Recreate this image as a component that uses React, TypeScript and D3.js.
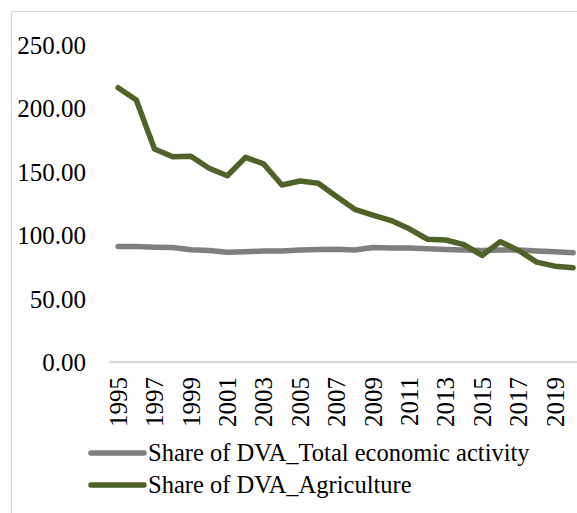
import React from "react";
import * as d3 from "d3";

const years = d3.range(1995, 2021).map(String);
const totalActivity = [
  91.0, 91.0, 90.5, 90.3, 88.5, 88.0, 86.5, 87.0, 87.5, 87.5, 88.3, 88.8, 89.0,
  88.3, 90.3, 90.0, 90.0, 89.3, 88.7, 88.3, 88.0, 88.3, 88.3, 87.5, 87.0, 86.2,
];
const agriculture = [
  216.3, 206.6, 168.0, 161.9, 162.3, 152.8, 146.9, 161.4, 156.2, 139.6, 142.7,
  140.9, 130.5, 120.4, 115.9, 111.5, 105.0, 96.8, 96.2, 92.5, 84.0, 94.9, 88.0,
  78.8, 75.6, 74.4,
];
const yTicks = [0, 50, 100, 150, 200, 250];
const xLabels = years.filter((_, i) => i % 2 === 0);

const seriesList = [
  { name: "Share of DVA_Total economic activity", values: totalActivity, color: "#7F7F7F" },
  { name: "Share of DVA_Agriculture", values: agriculture, color: "#4F6228" },
];

const W = 577;
const H = 513;
const FONT = "'Liberation Serif', 'DejaVu Serif', serif";

export default function App() {
  const x = d3.scaleBand().domain(years).range([109, 109 + years.length * 18.2]);
  const y = d3.scaleLinear().domain([0, 250]).range([362, 45]);
  const cx = (yr: string) => (x(yr) ?? 0) + x.bandwidth() / 2;

  const line = d3
    .line<number>()
    .x((_, i) => cx(years[i]))
    .y((d) => y(d));

  return (
    <svg
      width={W}
      height={H}
      style={{ position: "absolute", left: 0, top: 0, background: "#fff" }}
      fontFamily={FONT}
    >
      <rect x={0} y={0} width={W} height={H} fill="#fff" />
      {/* chart area border */}
      <rect x={11.5} y={11.5} width={700} height={700} fill="none" stroke="#D9D9D9" strokeWidth={1.2} />

      {/* y axis labels */}
      {yTicks.map((t) => (
        <text key={t} x={86} y={y(t) + 9} textAnchor="end" fontSize={25} fill="#000">
          {d3.format(".2f")(t)}
        </text>
      ))}

      {/* category axis */}
      <line x1={109} x2={W} y1={y(0)} y2={y(0)} stroke="#D9D9D9" strokeWidth={2.5} />
      {xLabels.map((yr) => (
        <text
          key={yr}
          transform={`translate(${cx(yr)},377) rotate(-90)`}
          dy="0.35em"
          textAnchor="end"
          fontSize={25}
          fill="#000"
        >
          {yr}
        </text>
      ))}

      {/* series */}
      {seriesList.map((s) => (
        <path
          key={s.name}
          d={line(s.values) ?? ""}
          fill="none"
          stroke={s.color}
          strokeWidth={5.5}
          strokeLinejoin="round"
          strokeLinecap="round"
        />
      ))}

      {/* legend */}
      {seriesList.map((s, i) => {
        const ly = 453 + i * 32;
        return (
          <g key={s.name}>
            <line x1={91} x2={144} y1={ly} y2={ly} stroke={s.color} strokeWidth={5.5} strokeLinecap="round" />
            <text x={148} y={ly + 8} fontSize={24.5} fill="#000">
              {s.name}
            </text>
          </g>
        );
      })}
    </svg>
  );
}
